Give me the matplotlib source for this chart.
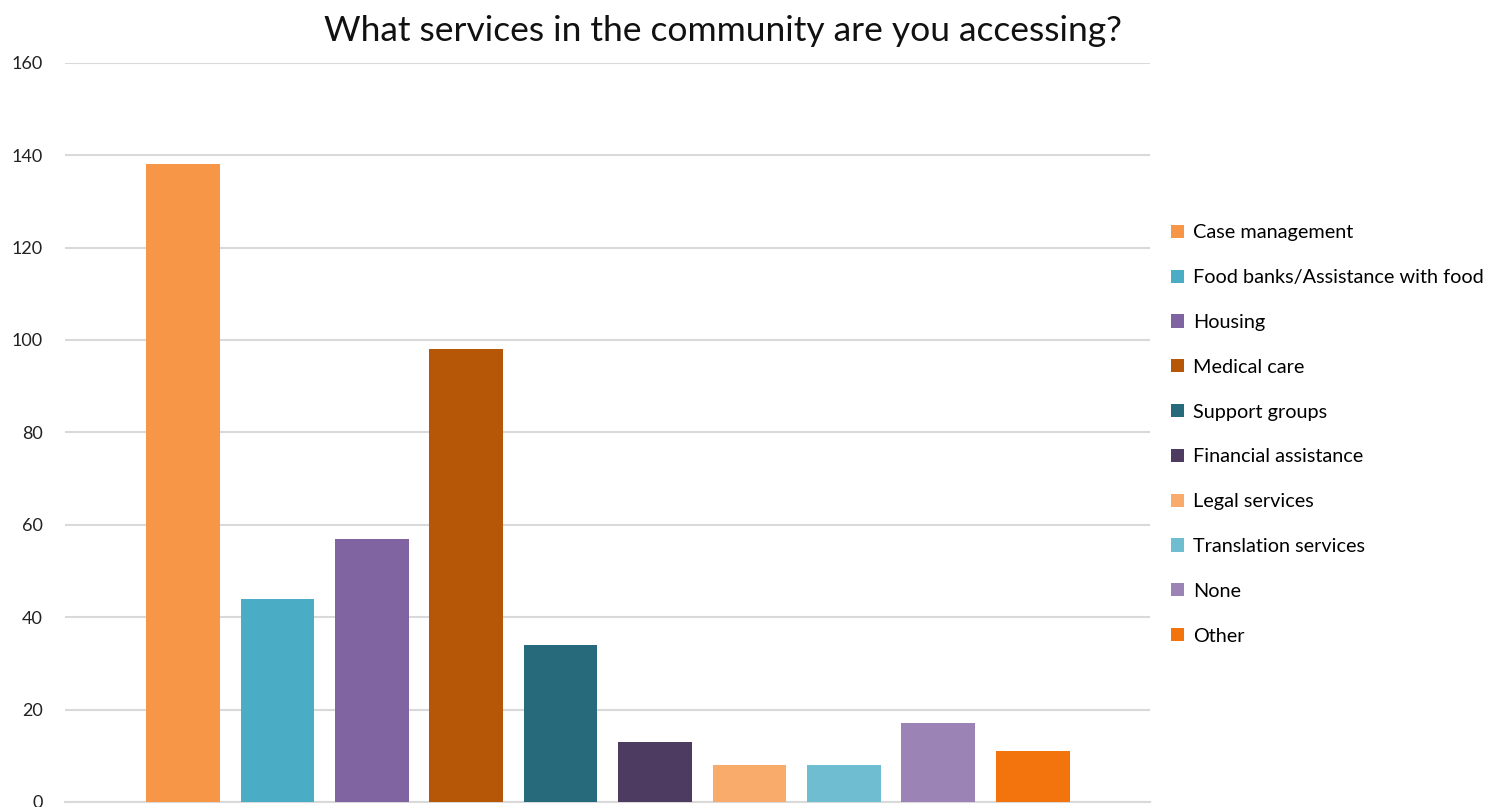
import numpy as np
import matplotlib.pyplot as plt
from matplotlib.patches import Patch

# services and number of respondents using each
services = ['Case management', 'Food banks/Assistance with food', 'Housing',
            'Medical care', 'Support groups', 'Financial assistance',
            'Legal services', 'Translation services', 'None', 'Other']
counts = [138, 44, 57, 98, 34, 13, 8, 8, 17, 11]
colors = ['#F79646', '#4BACC6', '#8064A2', '#B65708', '#276A7C',
          '#4D3B62', '#F9AB6C', '#6FBDD1', '#9B83B6', '#F3740C']
yticks = [0, 20, 40, 60, 80, 100, 120, 140, 160]

plt.rcParams['font.family'] = ['Lato', 'DejaVu Sans']

fig = plt.figure(figsize=(14.88, 8.07), dpi=100)
ax = fig.add_axes([0.0437, 0.0062, 0.729, 0.916])

x = np.arange(len(services))
ax.bar(x, counts, width=0.78, color=colors, zorder=3)

ax.set_xlim(-1.25, 10.24)
ax.set_ylim(0, 160)
ax.set_yticks(yticks)
ax.set_xticks([])
ax.tick_params(axis='y', length=0, labelsize=13, labelcolor='#222222', pad=16)
ax.grid(axis='y', color='#d9d9d9', linewidth=1.5, zorder=0)
for side in ['top', 'right', 'left']:
    ax.spines[side].set_visible(False)
ax.spines['bottom'].set_color('#d9d9d9')
ax.spines['bottom'].set_linewidth(1.5)

fig.text(0.486, 0.962, 'What services in the community are you accessing?',
         ha='center', va='center', fontsize=25.5, color='#111111')

handles = [Patch(facecolor=c, edgecolor='none') for c in colors]
leg = fig.legend(handles, services, loc='upper left',
                 bbox_to_anchor=(0.787, 0.722), frameon=False, fontsize=14.3,
                 handlelength=0.65, handleheight=0.65, handletextpad=0.45,
                 labelspacing=1.4, borderaxespad=0, borderpad=0)

fig.savefig('out.png', dpi=100)
